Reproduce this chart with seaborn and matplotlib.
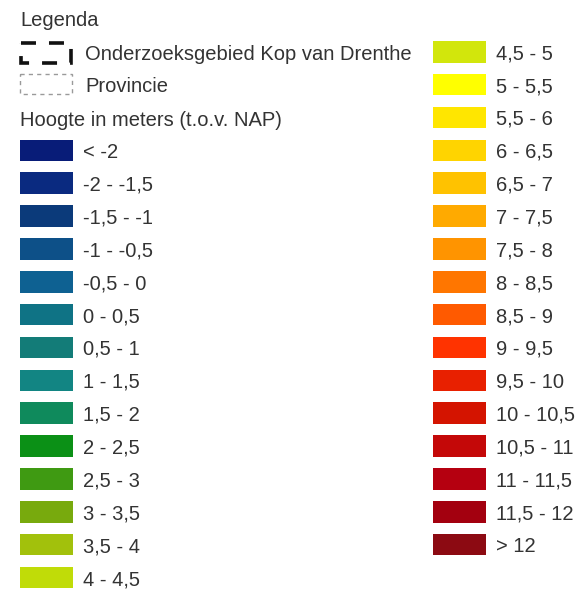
import matplotlib
matplotlib.use("Agg")
import matplotlib.pyplot as plt
import seaborn as sns
import pandas as pd
from matplotlib.patches import Rectangle

# ---- data ----
title = "Legenda"
study_area_label = "Onderzoeksgebied Kop van Drenthe"
province_label = "Provincie"
height_title = "Hoogte in meters (t.o.v. NAP)"

classes = ["< -2", "-2 - -1,5", "-1,5 - -1", "-1 - -0,5", "-0,5 - 0", "0 - 0,5",
           "0,5 - 1", "1 - 1,5", "1,5 - 2", "2 - 2,5", "2,5 - 3", "3 - 3,5",
           "3,5 - 4", "4 - 4,5", "4,5 - 5", "5 - 5,5", "5,5 - 6", "6 - 6,5",
           "6,5 - 7", "7 - 7,5", "7,5 - 8", "8 - 8,5", "8,5 - 9", "9 - 9,5",
           "9,5 - 10", "10 - 10,5", "10,5 - 11", "11 - 11,5", "11,5 - 12", "> 12"]
colors = ["#081c78", "#0a2a80", "#0b3a7a", "#0d5088", "#0e6192", "#0f7385",
          "#137c78", "#128583", "#0f8a5c", "#0b9016", "#3f9a12", "#78aa0d",
          "#a2c10c", "#c0dc08", "#d2e60c", "#ffff00", "#ffe600", "#ffd400",
          "#ffc200", "#ffaa00", "#ff9400", "#ff7600", "#ff5a00", "#ff3300",
          "#e82000", "#d41400", "#c40808", "#b50010", "#a3000f", "#8c0a12"]

# ---- layout ----
sns.set_theme(style="white")
plt.rcParams['font.family'] = ['Liberation Sans', 'DejaVu Sans']
TXT = "#333333"
FS = 14.5

W, H = 583, 590
fig = plt.figure(figsize=(W / 100, H / 100), dpi=100)
ax = fig.add_axes([0, 0, 1, 1])
ax.set_xlim(0, W)
ax.set_ylim(H, 0)
ax.axis("off")

n_left = 14
step = 32.86
top0 = 41.0
sw_h = 21.5
sw_w = 53

df = pd.DataFrame({"label": classes, "color": colors})
df["col"] = [0 if i < n_left else 1 for i in range(len(df))]
df["row"] = [i + 3 if i < n_left else i - n_left for i in range(len(df))]
df["y"] = top0 + step * df["row"] + sw_h / 2
df["x0"] = df["col"].map({0: 20, 1: 433})
df["tx"] = df["col"].map({0: 83, 1: 496})

ax.barh(df["y"], sw_w, left=df["x0"], height=sw_h, color=df["color"],
        edgecolor="none")
for _, r in df.iterrows():
    ax.text(r["tx"], r["y"] + 2.0, r["label"], fontsize=FS, color=TXT,
            va="center", ha="left")

# header texts
ax.text(20, 20, title, fontsize=FS, color=TXT, va="center", ha="left")
ax.text(85, 54, study_area_label, fontsize=FS, color=TXT, va="center", ha="left")
ax.text(85, 87, province_label, fontsize=FS, color=TXT, va="center", ha="left")
ax.text(20, 121, height_title, fontsize=FS, color=TXT, va="center", ha="left")

# study-area symbol: thick dashed box
ax.add_patch(Rectangle((21, 43), 50, 20, fill=False, edgecolor="#111111",
                       linewidth=2.6, linestyle=(0, (4.15, 3.6))))
# province symbol: thin grey dashed box
ax.add_patch(Rectangle((20, 74), 52, 20, fill=False, edgecolor="#9a9a9a",
                       linewidth=1.0, linestyle=(0, (3, 3))))

fig.savefig("out.png", dpi=100, facecolor="white")
